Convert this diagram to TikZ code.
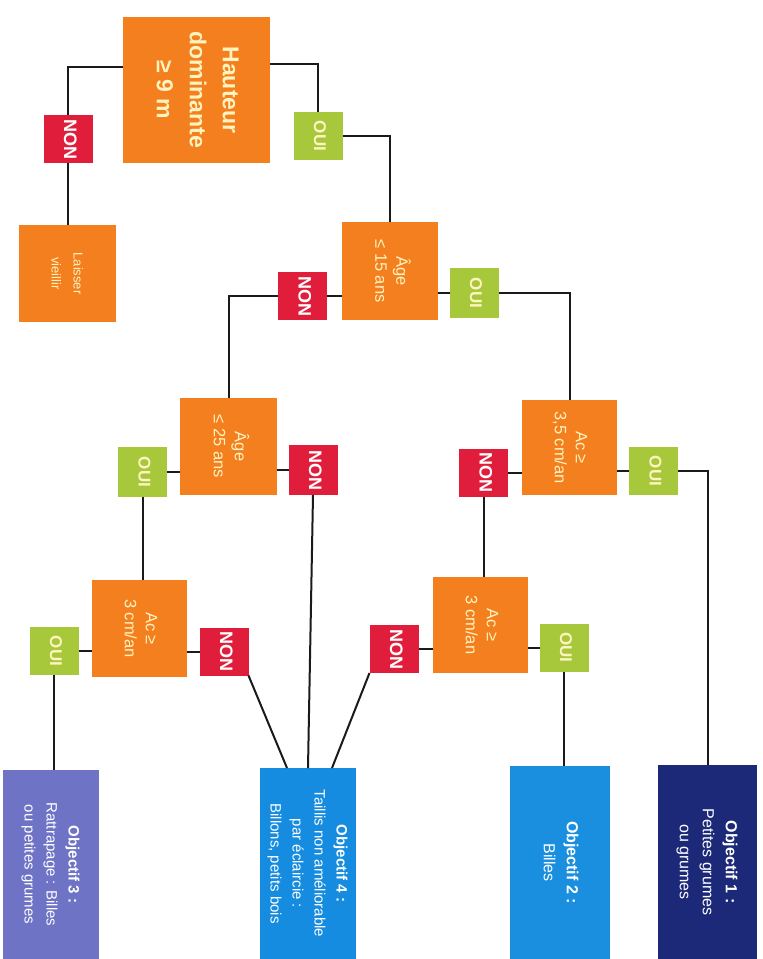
\documentclass[tikz,border=0pt]{standalone}
\usepackage{fontspec}
\usepackage{graphicx}
\setmainfont{Liberation Sans}
\usetikzlibrary{calc}
\definecolor{orng}{HTML}{F47F1E}
\definecolor{nonred}{HTML}{E01E3C}
\definecolor{ouigreen}{HTML}{A6C83A}
\definecolor{obja}{HTML}{1C2878}
\definecolor{objb}{HTML}{1A8FE0}
\definecolor{objc}{HTML}{6E73C6}
\definecolor{objd}{HTML}{168CE0}
\definecolor{paletext}{HTML}{FFF4C0}
\definecolor{linec}{HTML}{1A1A1A}
\newcommand{\rtxt}[1]{\rotatebox[origin=c]{-90}{\begin{tabular}{@{}c@{}}#1\end{tabular}}}
\tikzset{
  box/.style={draw=none, inner sep=0pt, outer sep=0pt},
  orbox/.style={box, fill=orng, text=paletext, font=\fontsize{16.5}{21}\selectfont},
  nonbox/.style={box, fill=nonred, text=white, minimum width=49pt, minimum height=48pt, font=\fontsize{18}{20}\selectfont\bfseries},
  ouibox/.style={box, fill=ouigreen, text=paletext, minimum width=49pt, minimum height=48pt, font=\fontsize{17}{20}\selectfont\bfseries},
  objbox/.style={box, text=white, font=\fontsize{16}{23}\selectfont},
  conn/.style={draw=linec, line width=2pt}
}
\begin{document}
\begin{tikzpicture}[x=1pt,y=-1pt]
\useasboundingbox (0,0) rectangle (763,959);
% decision boxes
\node[orbox, minimum width=147pt, minimum height=146pt, font=\fontsize{23}{33}\selectfont\bfseries] (h) at (196.5,90) {\rtxt{Hauteur\\dominante\\≥ 9 m}};
\node[orbox, minimum width=97pt, minimum height=97pt, font=\fontsize{13}{22}\selectfont] (laisser) at (67,273.5) {\rtxt{Laisser\\vieillir}};
\node[orbox, minimum width=96pt, minimum height=98pt] (age15) at (390,271) {\rtxt{Âge\\≤ 15 ans}};
\node[orbox, minimum width=97pt, minimum height=97pt] (age25) at (228.5,446.5) {\rtxt{Âge\\≤ 25 ans}};
\node[orbox, minimum width=95pt, minimum height=95pt] (ac35) at (569.5,447.5) {\rtxt{Ac ≥\\3,5 cm/an}};
\node[orbox, minimum width=95pt, minimum height=97pt] (ac3L) at (139.5,628.5) {\rtxt{Ac ≥\\3 cm/an}};
\node[orbox, minimum width=95pt, minimum height=96pt] (ac3R) at (480.5,625) {\rtxt{Ac ≥\\3 cm/an}};
% answers
\node[nonbox] (nonA) at (68,139) {\rtxt{NON}};
\node[ouibox] (ouiA) at (318,136) {\rtxt{OUI}};
\node[nonbox] (nonB) at (302.5,296) {\rtxt{NON}};
\node[ouibox, minimum height=50pt] (ouiB) at (474,293) {\rtxt{OUI}};
\node[ouibox, minimum height=50pt] (ouiC) at (142.5,472) {\rtxt{OUI}};
\node[nonbox, minimum height=50pt] (nonC) at (313,470) {\rtxt{NON}};
\node[nonbox] (nonD) at (224,651.5) {\rtxt{NON}};
\node[ouibox] (ouiD) at (54,651) {\rtxt{OUI}};
\node[nonbox] (nonF) at (483.5,472.5) {\rtxt{NON}};
\node[ouibox] (ouiF) at (653.5,471) {\rtxt{OUI}};
\node[nonbox] (nonE) at (394,649) {\rtxt{NON}};
\node[ouibox] (ouiE) at (564,647.5) {\rtxt{OUI}};
% objectives
\node[objbox, fill=objc, minimum width=96pt, minimum height=189pt, font=\fontsize{15}{22}\selectfont] (obj3) at (51,864.5) {\rtxt{\textbf{Objectif 3 :}\\Rattrapage : Billes\\ou petites grumes}};
\node[objbox, fill=objd, minimum width=96pt, minimum height=191pt, font=\fontsize{15}{22}\selectfont] (obj4) at (308,863.5) {\rtxt{\textbf{Objectif 4 :}\\Taillis non améliorable\\par éclaircie :\\Billons, petits bois}};
\node[objbox, fill=objb, minimum width=100pt, minimum height=193pt] (obj2) at (560,862.5) {\rtxt{\textbf{Objectif 2 :}\\Billes}};
\node[objbox, fill=obja, minimum width=99pt, minimum height=194pt] (obj1) at (707.5,862) {\rtxt{\textbf{Objectif 1 :}\\Petites grumes\\ou grumes}};
% connectors
\draw[conn] ($(h.north west)!0.34!(h.south west)$) -| (nonA.north);
\draw[conn] ($(h.north east)!0.32!(h.south east)$) -| (ouiA.north);
\draw[conn] (nonA.south) -- (nonA.south |- laisser.north);
\draw[conn] (ouiA.east) -| (age15.north);
\draw[conn] (nonB.east) -- (nonB.east -| age15.west);
\draw[conn] (nonB.west) -| (age25.north);
\draw[conn] (ouiB.west) -- (ouiB.west -| age15.east);
\draw[conn] (ouiB.east) -| (ac35.north);
\draw[conn] (ouiC.east) -- (ouiC.east -| age25.west);
\draw[conn] (nonC.west) -- (nonC.west -| age25.east);
\draw[conn] (ouiC.south) -- (ouiC.south |- ac3L.north);
\draw[conn] (nonD.west) -- (nonD.west -| ac3L.east);
\draw[conn] (ouiD.east) -- (ouiD.east -| ac3L.west);
\draw[conn] (ouiD.south) -- (ouiD.south |- obj3.north);
\draw[conn] (nonD.south east) -- ($(obj4.north)+(-21,0)$);
\draw[conn] (nonC.south) -- (obj4.north);
\draw[conn] (nonE.south west) -- ($(obj4.north)+(24,0)$);
\draw[conn] (nonF.east) -- (nonF.east -| ac35.west);
\draw[conn] (ouiF.west) -- (ouiF.west -| ac35.east);
\draw[conn] (ouiF.east) -| (obj1.north);
\draw[conn] (nonF.south) -- (nonF.south |- ac3R.north);
\draw[conn] (nonE.east) -- (nonE.east -| ac3R.west);
\draw[conn] (ouiE.west) -- (ouiE.west -| ac3R.east);
\draw[conn] (ouiE.south) -- (ouiE.south |- obj2.north);
\end{tikzpicture}
\end{document}
